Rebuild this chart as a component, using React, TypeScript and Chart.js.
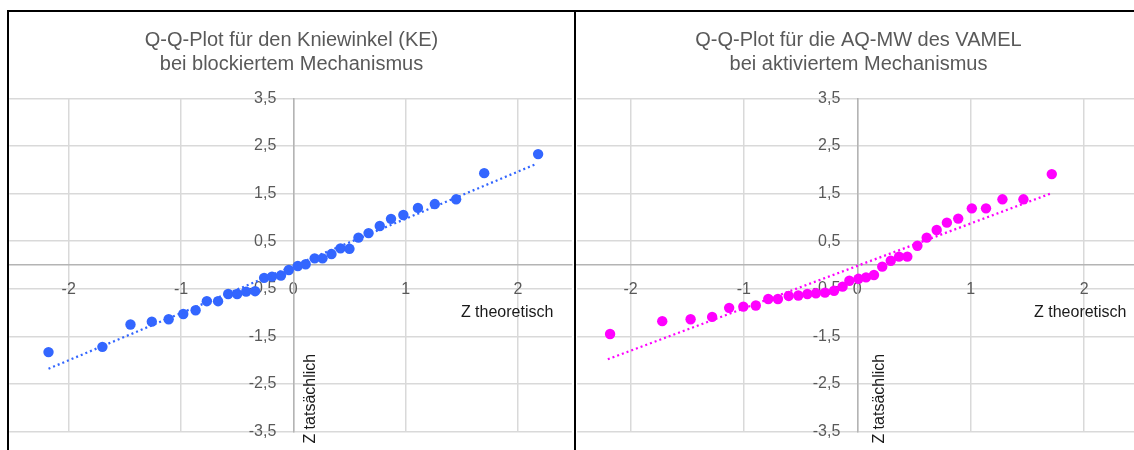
import React, { useEffect, useRef } from "react";
import { Chart, registerables } from "chart.js";

Chart.register(...registerables);

const FONT = '"Liberation Sans", Arial, sans-serif';

// shared tick values
const xTickValues = [-2, -1, 0, 1, 2];
const yTickValues = [-3.5, -2.5, -1.5, -0.5, 0.5, 1.5, 2.5, 3.5];

// Left chart: Kniewinkel (KE), blockierter Mechanismus
const keTitle = ["Q-Q-Plot für den Kniewinkel (KE)", "bei blockiertem Mechanismus"];
const keZTheoretisch = [
  -2.18, -1.7, -1.45, -1.26, -1.11, -0.98, -0.87, -0.77, -0.67, -0.58, -0.5, -0.42, -0.34, -0.26, -0.19, -0.11, -0.04,
  0.04, 0.11, 0.19, 0.26, 0.34, 0.42, 0.5, 0.58, 0.67, 0.77, 0.87, 0.98, 1.11, 1.26, 1.45, 1.7, 2.18,
];
const keZTatsaechlich = [
  -1.83, -1.72, -1.25, -1.19, -1.14, -1.03, -0.95, -0.76, -0.76, -0.61, -0.61, -0.56, -0.55, -0.27, -0.245, -0.22, -0.105,
  -0.02, 0.015, 0.14, 0.14, 0.23, 0.35, 0.34, 0.575, 0.67, 0.82, 0.97, 1.05, 1.2, 1.28, 1.38, 1.93, 2.33,
];
const keTrendX = [-2.18, 2.17];
const keTrendY = [-2.18, 2.13];

// Right chart: AQ-MW des VAMEL, aktivierter Mechanismus
const aqTitle = ["Q-Q-Plot für die AQ-MW des VAMEL", "bei aktiviertem Mechanismus"];
const aqZTheoretisch = [
  -2.18, -1.72, -1.47, -1.28, -1.13, -1.005, -0.895, -0.785, -0.7, -0.605, -0.52, -0.44, -0.365, -0.285, -0.205, -0.13, -0.07,
  0.01, 0.077, 0.147, 0.22, 0.295, 0.368, 0.441, 0.53, 0.612, 0.7, 0.79, 0.89, 1.01, 1.135, 1.28, 1.465, 1.715,
];
const aqZTatsaechlich = [
  -1.45, -1.18, -1.14, -1.09, -0.9, -0.875, -0.85, -0.715, -0.715, -0.65, -0.64, -0.61, -0.595, -0.58, -0.54, -0.455, -0.33,
  -0.29, -0.26, -0.21, -0.035, 0.09, 0.175, 0.175, 0.405, 0.575, 0.735, 0.89, 0.975, 1.19, 1.19, 1.38, 1.38, 1.91,
];
const aqTrendX = [-2.2, 1.715];
const aqTrendY = [-1.98, 1.51];

const xAxisTitle = "Z theoretisch";
const yAxisTitle = "Z tatsächlich";

const fmt = (v: number) => String(v).replace(".", ",");

// y tick labels of an axis placed at x = 0 sit flush against the axis line; move them left by a gap
const yLabelGapPlugin = {
  id: "yLabelGap",
  beforeDraw(chart: any, _args: any, opts: any) {
    const items = chart.scales.y.getLabelItems();
    for (const it of items) {
      if (!it._gapApplied) {
        it.options.translation[0] -= opts.gap;
        it._gapApplied = true;
      }
    }
  },
};

const axisTitlePlugin = {
  id: "axisTitles",
  afterDraw(chart: any, _args: any, opts: any) {
    const { ctx, chartArea } = chart;
    const x = chart.scales.x;
    const y = chart.scales.y;
    ctx.save();
    ctx.font = `16px ${FONT}`;
    ctx.fillStyle = "#1a1a1a";
    ctx.textAlign = "right";
    ctx.textBaseline = "middle";
    ctx.fillText(opts.xTitle, x.getPixelForValue(opts.xTitleAt), y.getPixelForValue(0) + 48);
    ctx.translate(x.getPixelForValue(0) + opts.yTitleOffset, chartArea.bottom + 12);
    ctx.rotate(-Math.PI / 2);
    ctx.textAlign = "left";
    ctx.fillText(opts.yTitle, 0, 0);
    ctx.restore();
  },
};

type QQProps = {
  title: string[];
  xs: number[];
  ys: number[];
  trendX: number[];
  trendY: number[];
  color: string;
  xMin: number;
  xMax: number;
  padLeft: number;
  padRight: number;
  xTitleAt: number;
  yTitleOffset: number;
  left: number;
  width: number;
};

function QQChart(p: QQProps) {
  const ref = useRef<HTMLCanvasElement>(null);
  useEffect(() => {
    const points = p.xs.map((v, i) => ({ x: v, y: p.ys[i] }));
    const trend = p.trendX.map((v, i) => ({ x: v, y: p.trendY[i] }));
    const chart = new Chart(ref.current as HTMLCanvasElement, {
      type: "scatter",
      data: {
        datasets: [
          {
            data: trend,
            showLine: true,
            borderColor: p.color,
            backgroundColor: p.color,
            borderWidth: 2.25,
            borderDash: [2, 3],
            pointRadius: 0,
            order: 0,
          },
          {
            data: points,
            backgroundColor: p.color,
            borderColor: p.color,
            pointRadius: 5.2,
            pointBorderWidth: 0,
            order: 1,
          },
        ],
      },
      options: {
        animation: false,
        responsive: false,
        events: [],
        layout: { padding: { left: p.padLeft, right: p.padRight, top: 0, bottom: 18.4 } },
        plugins: {
          legend: { display: false },
          tooltip: { enabled: false },
          title: {
            display: true,
            text: p.title,
            color: "#595959",
            font: { family: FONT, size: 20, weight: "normal", lineHeight: 1.2 },
            padding: { top: 16, bottom: 22.4 },
          },
          yLabelGap: { gap: 17 },
          axisTitles: {
            xTitle: xAxisTitle,
            yTitle: yAxisTitle,
            xTitleAt: p.xTitleAt,
            yTitleOffset: p.yTitleOffset,
          },
        },
        scales: {
          x: {
            type: "linear",
            position: { y: 0 },
            min: p.xMin,
            max: p.xMax,
            afterBuildTicks: (s: any) => {
              s.ticks = xTickValues.map((v) => ({ value: v }));
            },
            grid: { color: "#d9d9d9", lineWidth: 1.5, drawTicks: false },
            border: { color: "#b4b4b4", width: 1.5 },
            ticks: {
              color: "#595959",
              font: { family: FONT, size: 16 },
              padding: 15,
              maxRotation: 0,
              callback: (v: any) => fmt(v),
            },
          },
          y: {
            type: "linear",
            position: { x: 0 },
            min: -3.5,
            max: 3.5,
            afterBuildTicks: (s: any) => {
              s.ticks = yTickValues.map((v) => ({ value: v }));
            },
            afterFit: (s: any) => {
              s.paddingTop = 0;
              s.paddingBottom = 0;
            },
            grid: { color: "#d9d9d9", lineWidth: 1.5, drawTicks: false },
            border: { color: "#b4b4b4", width: 1.5 },
            ticks: {
              color: "#595959",
              font: { family: FONT, size: 16 },
              padding: 17,
              callback: (v: any) => fmt(v),
            },
          },
        },
      },
      plugins: [yLabelGapPlugin, axisTitlePlugin],
    } as any);
    return () => chart.destroy();
  }, []);
  return (
    <div style={{ position: "absolute", left: p.left, top: 12, width: p.width, height: 438 }}>
      <canvas ref={ref} width={p.width} height={438} style={{ display: "block" }} />
    </div>
  );
}

export default function App() {
  return (
    <div
      style={{
        position: "fixed",
        left: 0,
        top: 0,
        width: 1134,
        height: 450,
        overflow: "hidden",
        background: "#fff",
      }}
    >
      <QQChart
        title={keTitle}
        xs={keZTheoretisch}
        ys={keZTatsaechlich}
        trendX={keTrendX}
        trendY={keTrendY}
        color="#3366ff"
        xMin={-2.53}
        xMax={2.48}
        padLeft={2}
        padRight={0}
        xTitleAt={2.316}
        yTitleOffset={16.8}
        left={4}
        width={573}
      />
      <QQChart
        title={aqTitle}
        xs={aqZTheoretisch}
        ys={aqZTatsaechlich}
        trendX={aqTrendX}
        trendY={aqTrendY}
        color="#ff00ff"
        xMin={-2.47}
        xMax={2.5}
        padLeft={-1}
        padRight={0}
        xTitleAt={2.374}
        yTitleOffset={22.4}
        left={572}
        width={574}
      />
      <div style={{ position: "absolute", left: 7, top: 10, width: 2, height: 440, background: "#000" }} />
      <div style={{ position: "absolute", left: 7, top: 10, width: 1127, height: 2, background: "#000" }} />
      <div style={{ position: "absolute", left: 574, top: 10, width: 2, height: 440, background: "#000" }} />
    </div>
  );
}
